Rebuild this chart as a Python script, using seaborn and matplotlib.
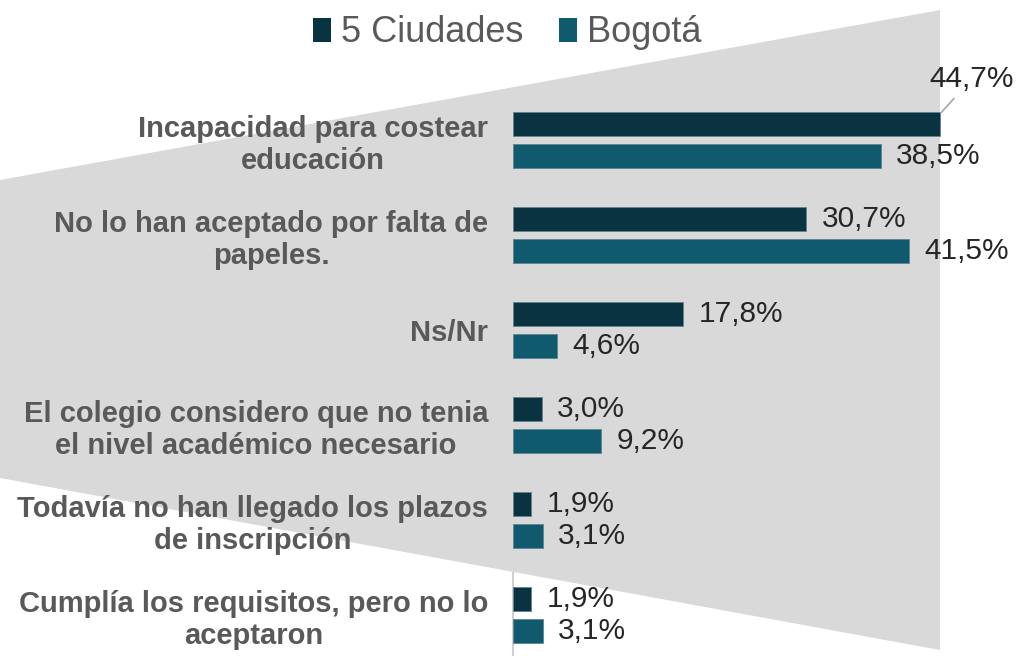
import matplotlib
matplotlib.use("Agg")
import matplotlib.pyplot as plt
import seaborn as sns
import pandas as pd
from matplotlib.patches import Polygon

categories = [
    "Incapacidad para costear\neducación",
    "No lo han aceptado por falta de\npapeles.",
    "Ns/Nr",
    "El colegio considero que no tenia\nel nivel académico necesario",
    "Todavía no han llegado los plazos\nde inscripción",
    "Cumplía los requisitos, pero no lo\naceptaron",
]
series_names = ["5 Ciudades", "Bogotá"]
ciudades = [44.7, 30.7, 17.8, 3.0, 1.9, 1.9]
bogota = [38.5, 41.5, 4.6, 9.2, 3.1, 3.1]

colors = ["#0A3342", "#0F5B6D"]

rows = []
for c, v in zip(categories, ciudades):
    rows.append({"cat": c, "serie": series_names[0], "val": v})
for c, v in zip(categories, bogota):
    rows.append({"cat": c, "serie": series_names[1], "val": v})
df = pd.DataFrame(rows)

sns.set_style("white")
plt.rcParams["font.family"] = ["Liberation Sans", "DejaVu Sans"]

W, H = 1016, 656
fig = plt.figure(figsize=(W / 100, H / 100), dpi=100, facecolor="white")

# axes: x 0 at px 513, 9.55 px per unit ; category centers at 140 + 95*i
ax_left_px, ax_right_px = 513, 1000
ax_top_px, ax_bot_px = 92.5, 656
ax = fig.add_axes([ax_left_px / W, 1 - ax_bot_px / H,
                   (ax_right_px - ax_left_px) / W, (ax_bot_px - ax_top_px) / H])
ax.patch.set_visible(False)

sns.barplot(data=df, y="cat", x="val", hue="serie", orient="h",
            palette=colors, saturation=1, width=0.674, gap=0.25,
            hue_order=series_names, order=categories, ax=ax, legend=True,
            edgecolor="#5E8490", linewidth=0.6)

ax.set_xlim(0, (ax_right_px - ax_left_px) / 9.55)
ax.set_ylim((ax_bot_px - 140) / 95, -0.5)

# background shape
pts = [(0, 180), (940, 10), (940, 650), (0, 478)]
poly = Polygon([(x / W, 1 - y / H) for x, y in pts], closed=True,
               transform=fig.transFigure, facecolor="#D9D9D9",
               edgecolor="none", clip_on=False, zorder=0)
ax.add_patch(poly)

for s in ["top", "right", "bottom"]:
    ax.spines[s].set_visible(False)
ax.spines["left"].set_color("#D0D0D0")
ax.spines["left"].set_linewidth(1.5)
ax.spines["left"].set_zorder(-1)

ax.set_xlabel("")
ax.set_ylabel("")
ax.set_xticks([])
ax.tick_params(axis="y", length=0, pad=18)
ax.set_yticks(range(len(categories)))
ax.set_yticklabels(categories, fontsize=21, fontweight="bold", color="#595959",
                   multialignment="center", linespacing=1.18)

# value labels
for ci, cont in enumerate(ax.containers):
    for bar in cont:
        w = bar.get_width()
        yc = bar.get_y() + bar.get_height() / 2
        txt = f"{w:.1f}".replace(".", ",") + "%"
        if ci == 0 and w == max(ciudades):
            ax.annotate(txt, xy=(w, bar.get_y() + 0.02), xytext=(23, 25),
                        textcoords="offset points", ha="center", va="center",
                        fontsize=21.5, color="#262626",
                        arrowprops=dict(arrowstyle="-", color="#A6A6A6",
                                        lw=1.2, shrinkA=2, shrinkB=1),
                        annotation_clip=False)
        else:
            ax.annotate(txt, xy=(w, yc), xytext=(11, 0),
                        textcoords="offset points", ha="left", va="center",
                        fontsize=21.5, color="#262626", annotation_clip=False)

leg = ax.legend(loc="center", bbox_to_anchor=(507 / W, 1 - 33 / H),
                bbox_transform=fig.transFigure, ncol=2, frameon=False,
                fontsize=26, handlelength=0.5, handleheight=0.65,
                handletextpad=0.27, columnspacing=1.0, borderaxespad=0,
                borderpad=0)
for t in leg.get_texts():
    t.set_color("#595959")
for h in leg.legend_handles:
    h.set_edgecolor("none")

fig.savefig("out.png", dpi=100, facecolor="white")
